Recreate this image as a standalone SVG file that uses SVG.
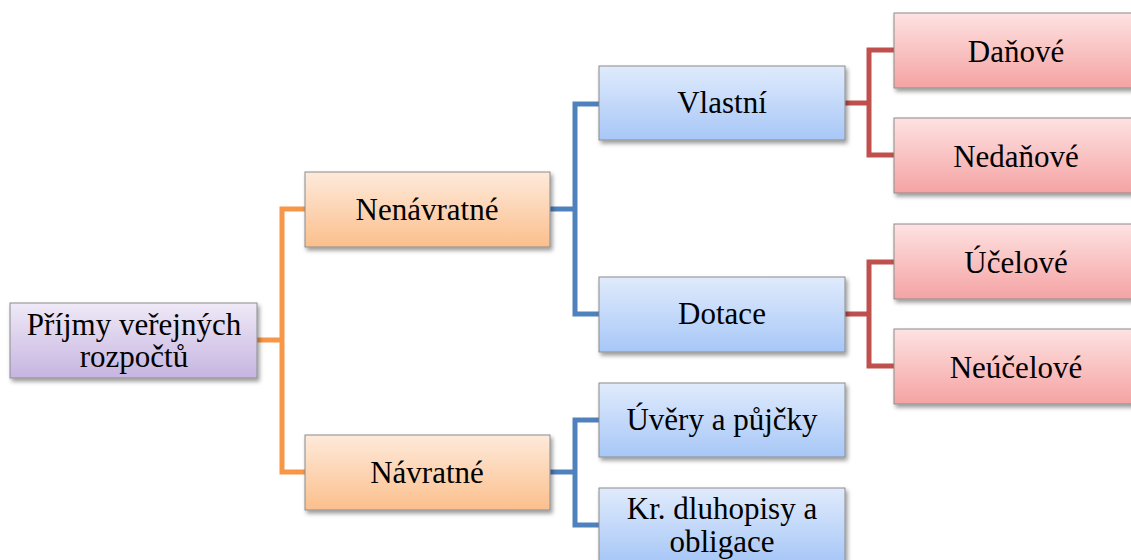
<svg xmlns="http://www.w3.org/2000/svg" width="1131" height="560" viewBox="0 0 1131 560">
  <defs>
    <linearGradient id="gPurple" x1="0" y1="0" x2="0" y2="1">
      <stop offset="0" stop-color="#efe9f7"/>
      <stop offset="1" stop-color="#c6b5e0"/>
    </linearGradient>
    <linearGradient id="gOrange" x1="0" y1="0" x2="0" y2="1">
      <stop offset="0" stop-color="#feeadb"/>
      <stop offset="1" stop-color="#fbbf8c"/>
    </linearGradient>
    <linearGradient id="gBlue" x1="0" y1="0" x2="0" y2="1">
      <stop offset="0" stop-color="#e0ebfc"/>
      <stop offset="1" stop-color="#a7c7f7"/>
    </linearGradient>
    <linearGradient id="gRed" x1="0" y1="0" x2="0" y2="1">
      <stop offset="0" stop-color="#fee2e2"/>
      <stop offset="1" stop-color="#f5a3a3"/>
    </linearGradient>
    <filter id="shadow" x="-10%" y="-20%" width="130%" height="160%">
      <feDropShadow dx="2" dy="3" stdDeviation="2" flood-color="#000" flood-opacity="0.4"/>
    </filter>
  </defs>
  <style>
    .box { stroke: #8c8c8c; stroke-width: 1; filter: url(#shadow); }
    .purple { fill: url(#gPurple); }
    .orange { fill: url(#gOrange); }
    .blue { fill: url(#gBlue); }
    .red { fill: url(#gRed); }
    text { font-family: Tinos, "Liberation Serif", "Noto Serif", "DejaVu Serif", Times, "Times New Roman", serif; font-size: 31px; fill: #000; text-anchor: middle; }
    .conn { fill: none; stroke-width: 5; }
    .c-orange { stroke: #f79646; }
    .c-blue { stroke: #4f81bd; }
    .c-red { stroke: #c0504d; }
  </style>

  <rect width="1131" height="560" fill="#fff"/>

  <!-- connectors -->
  <g id="connectors">
    <path class="conn c-orange" d="M257 340 H282 M305 209 H282 V472 H305"/>
    <path class="conn c-blue" d="M550 209 H575 M599 104 H575 V314 H599"/>
    <path class="conn c-blue" d="M550 472 H575 M599 420 H575 V525 H599"/>
    <path class="conn c-red" d="M845 103 H869 M894 50 H869 V155 H894"/>
    <path class="conn c-red" d="M845 314 H869 M894 262 H869 V366 H894"/>
  </g>

  <!-- root -->
  <g id="prijmy">
    <rect class="box purple" x="10" y="303" width="247" height="75"/>
    <text x="134" y="335">Příjmy veřejných</text>
    <text x="134" y="367">rozpočtů</text>
  </g>

  <!-- second level -->
  <g id="nenavratne">
    <rect class="box orange" x="305" y="172" width="245" height="75"/>
    <text x="427" y="220">Nenávratné</text>
  </g>
  <g id="navratne">
    <rect class="box orange" x="305" y="435" width="245" height="75"/>
    <text x="427" y="483">Návratné</text>
  </g>

  <!-- third level -->
  <g id="vlastni">
    <rect class="box blue" x="599" y="66" width="246" height="74"/>
    <text x="722" y="113">Vlastní</text>
  </g>
  <g id="dotace">
    <rect class="box blue" x="599" y="277" width="246" height="75"/>
    <text x="722" y="324">Dotace</text>
  </g>
  <g id="uvery">
    <rect class="box blue" x="599" y="383" width="246" height="74"/>
    <text x="722" y="430">Úvěry a půjčky</text>
  </g>
  <g id="dluhopisy">
    <rect class="box blue" x="599" y="488" width="246" height="75"/>
    <text x="722" y="519">Kr. dluhopisy a</text>
    <text x="722" y="552">obligace</text>
  </g>

  <!-- fourth level -->
  <g id="danove">
    <rect class="box red" x="894" y="13" width="245" height="75"/>
    <text x="1016" y="62">Daňové</text>
  </g>
  <g id="nedanove">
    <rect class="box red" x="894" y="118" width="245" height="75"/>
    <text x="1016" y="167">Nedaňové</text>
  </g>
  <g id="ucelove">
    <rect class="box red" x="894" y="224" width="245" height="75"/>
    <text x="1016" y="273">Účelové</text>
  </g>
  <g id="neucelove">
    <rect class="box red" x="894" y="329" width="245" height="75"/>
    <text x="1016" y="378">Neúčelové</text>
  </g>
</svg>
